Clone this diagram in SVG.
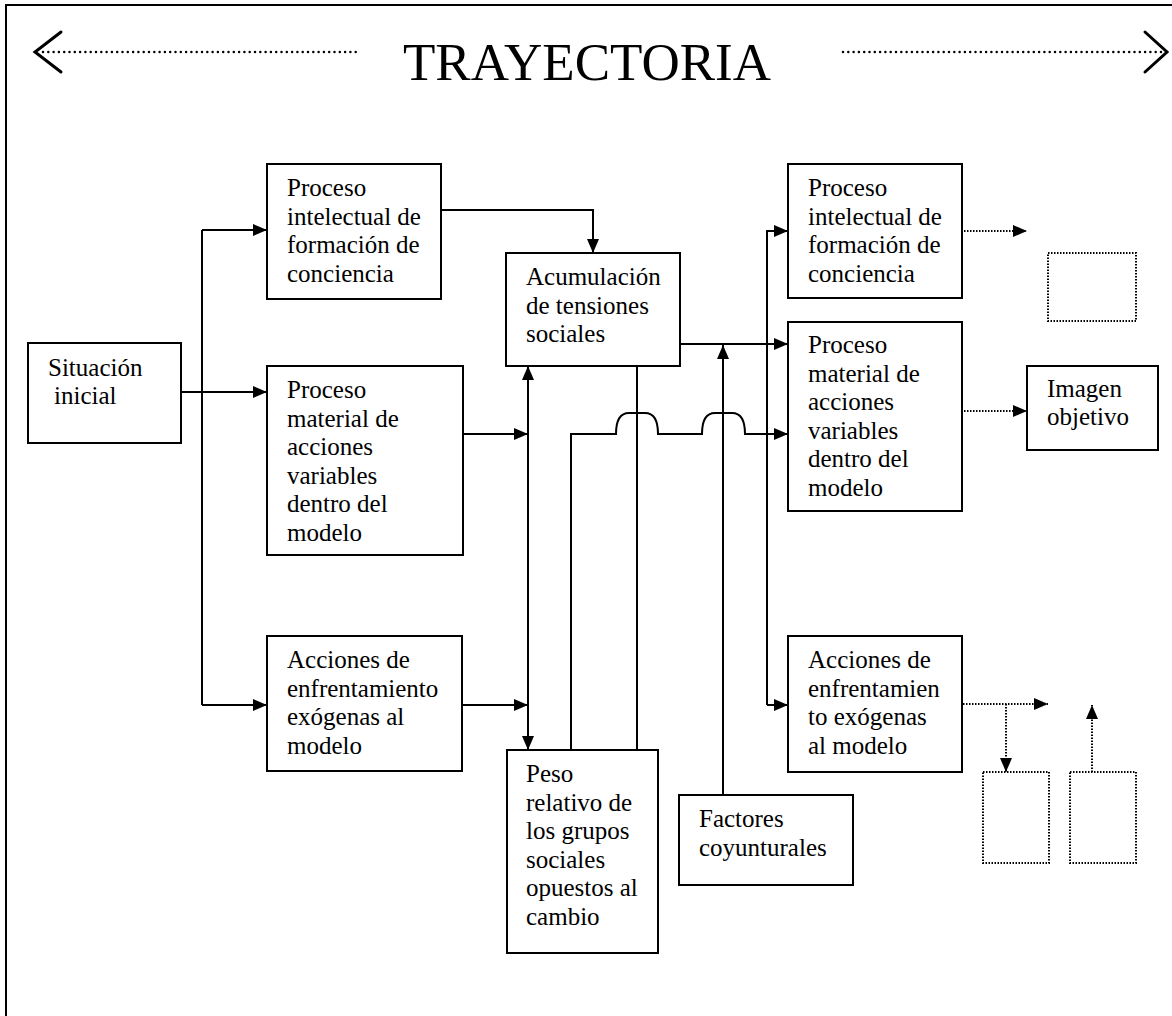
<svg xmlns="http://www.w3.org/2000/svg" width="1172" height="1016" viewBox="0 0 1172 1016">
<style>
.box{fill:#fff;stroke:#000;stroke-width:2}
.dbox{fill:none;stroke:#000;stroke-width:2;stroke-dasharray:1.5 1.5}
.t{font-family:"Liberation Serif","Times New Roman",serif;font-size:25px;fill:#000}
.title{font-family:"Liberation Serif","Times New Roman",serif;font-size:53px;fill:#000}
.c{fill:none;stroke:#000;stroke-width:2}
.dc{fill:none;stroke:#000;stroke-width:2;stroke-dasharray:1.5 1.5}
.big{fill:none;stroke:#000;stroke-width:2.5;stroke-linecap:round;stroke-dasharray:0 5.3}
.chev{fill:none;stroke:#000;stroke-width:3;stroke-linecap:round}
</style>
<defs>
<marker id="ah" markerUnits="userSpaceOnUse" markerWidth="14" markerHeight="12" refX="14" refY="6" orient="auto">
<path d="M0,0 L14,6 L0,12 z" fill="#000"/>
</marker>
</defs>
<g id="frame">
<path d="M6,1016 L6,5 L1172,5" fill="none" stroke="#000" stroke-width="2"/>
</g>
<g id="title">
<text class="title" x="587" y="80" text-anchor="middle">TRAYECTORIA</text>
<line class="big" x1="43" y1="52" x2="358" y2="52"/>
<path class="chev" d="M61,32 L35,52 L61,72"/>
<line class="big" x1="843" y1="52" x2="1162" y2="52"/>
<path class="chev" d="M1145,32 L1167,52 L1145,72"/>
</g>
<g id="connectors">
<line class="c" x1="181" y1="392" x2="267" y2="392" marker-end="url(#ah)"/>
<path class="c" d="M202,705 L202,230"/>
<line class="c" x1="202" y1="230" x2="267" y2="230" marker-end="url(#ah)"/>
<line class="c" x1="202" y1="705" x2="267" y2="705" marker-end="url(#ah)"/>
<path class="c" d="M441,210 L593,210 L593,253" marker-end="url(#ah)"/>
<line class="c" x1="463" y1="434" x2="528" y2="434" marker-end="url(#ah)"/>
<line class="c" x1="462" y1="705" x2="528" y2="705" marker-end="url(#ah)"/>
<line class="c" x1="528" y1="558" x2="528" y2="366" marker-end="url(#ah)"/>
<line class="c" x1="528" y1="558" x2="528" y2="750" marker-end="url(#ah)"/>
<line class="c" x1="637" y1="366" x2="637" y2="750"/>
<path class="c" d="M571,750 L571,434 L616,434 C616,420 620,413 629,413 L645,413 C654,413 658,420 658,434 L702,434 C702,420 706,413 715,413 L732,413 C741,413 745,420 745,434 L788,434" marker-end="url(#ah)"/>
<line class="c" x1="680" y1="344" x2="788" y2="344" marker-end="url(#ah)"/>
<line class="c" x1="723" y1="795" x2="723" y2="345" marker-end="url(#ah)"/>
<path class="c" d="M767,705 L767,230"/>
<line class="c" x1="767" y1="231" x2="788" y2="231" marker-end="url(#ah)"/>
<line class="c" x1="767" y1="705" x2="788" y2="705" marker-end="url(#ah)"/>
<line class="dc" x1="964" y1="231" x2="1027" y2="231" marker-end="url(#ah)"/>
<line class="dc" x1="964" y1="411" x2="1027" y2="411" marker-end="url(#ah)"/>
<line class="dc" x1="963" y1="704" x2="1048" y2="704" marker-end="url(#ah)"/>
<line class="dc" x1="1006" y1="704" x2="1006" y2="772" marker-end="url(#ah)"/>
<line class="dc" x1="1092" y1="772" x2="1092" y2="705" marker-end="url(#ah)"/>
</g>
<g id="situacion">
<rect class="box" x="28" y="343" width="153" height="100"/>
<text class="t" x="48" y="376">Situación</text>
<text class="t" x="54" y="404">inicial</text>
</g>
<g id="proc-int-1">
<rect class="box" x="267" y="164" width="174" height="135"/>
<text class="t" x="287" y="196"><tspan x="287">Proceso</tspan><tspan x="287" dy="28.5">intelectual de</tspan><tspan x="287" dy="28.5">formación de</tspan><tspan x="287" dy="28.5">conciencia</tspan></text>
</g>
<g id="proc-mat-1">
<rect class="box" x="267" y="366" width="196" height="189"/>
<text class="t" x="287" y="398"><tspan x="287">Proceso</tspan><tspan x="287" dy="28.5">material de</tspan><tspan x="287" dy="28.5">acciones</tspan><tspan x="287" dy="28.5">variables</tspan><tspan x="287" dy="28.5">dentro del</tspan><tspan x="287" dy="28.5">modelo</tspan></text>
</g>
<g id="acciones-1">
<rect class="box" x="267" y="636" width="195" height="135"/>
<text class="t" x="287" y="668"><tspan x="287">Acciones de</tspan><tspan x="287" dy="28.5">enfrentamiento</tspan><tspan x="287" dy="28.5">exógenas al</tspan><tspan x="287" dy="28.5">modelo</tspan></text>
</g>
<g id="acumulacion">
<rect class="box" x="506" y="253" width="174" height="113"/>
<text class="t" x="526" y="285"><tspan x="526">Acumulación</tspan><tspan x="526" dy="28.5">de tensiones</tspan><tspan x="526" dy="28.5">sociales</tspan></text>
</g>
<g id="peso">
<rect class="box" x="507" y="750" width="151" height="203"/>
<text class="t" x="526" y="782"><tspan x="526">Peso</tspan><tspan x="526" dy="28.5">relativo de</tspan><tspan x="526" dy="28.5">los grupos</tspan><tspan x="526" dy="28.5">sociales</tspan><tspan x="526" dy="28.5">opuestos al</tspan><tspan x="526" dy="28.5">cambio</tspan></text>
</g>
<g id="factores">
<rect class="box" x="679" y="795" width="174" height="90"/>
<text class="t" x="699" y="827"><tspan x="699">Factores</tspan><tspan x="699" dy="28.5">coyunturales</tspan></text>
</g>
<g id="proc-int-2">
<rect class="box" x="788" y="164" width="174" height="134"/>
<text class="t" x="808" y="196"><tspan x="808">Proceso</tspan><tspan x="808" dy="28.5">intelectual de</tspan><tspan x="808" dy="28.5">formación de</tspan><tspan x="808" dy="28.5">conciencia</tspan></text>
</g>
<g id="proc-mat-2">
<rect class="box" x="788" y="322" width="174" height="189"/>
<text class="t" x="808" y="353"><tspan x="808">Proceso</tspan><tspan x="808" dy="28.5">material de</tspan><tspan x="808" dy="28.5">acciones</tspan><tspan x="808" dy="28.5">variables</tspan><tspan x="808" dy="28.5">dentro del</tspan><tspan x="808" dy="28.5">modelo</tspan></text>
</g>
<g id="acciones-2">
<rect class="box" x="788" y="636" width="174" height="136"/>
<text class="t" x="808" y="668"><tspan x="808">Acciones de</tspan><tspan x="808" dy="28.5">enfrentamien</tspan><tspan x="808" dy="28.5">to exógenas</tspan><tspan x="808" dy="28.5">al modelo</tspan></text>
</g>
<g id="imagen">
<rect class="box" x="1027" y="366" width="131" height="84"/>
<text class="t" x="1047" y="397"><tspan x="1047">Imagen</tspan><tspan x="1047" dy="28">objetivo</tspan></text>
</g>
<g id="empty-1">
<rect class="dbox" x="1048" y="253" width="88" height="68"/>
</g>
<g id="empty-2">
<rect class="dbox" x="983" y="772" width="66" height="91"/>
</g>
<g id="empty-3">
<rect class="dbox" x="1070" y="772" width="66" height="91"/>
</g>
</svg>
